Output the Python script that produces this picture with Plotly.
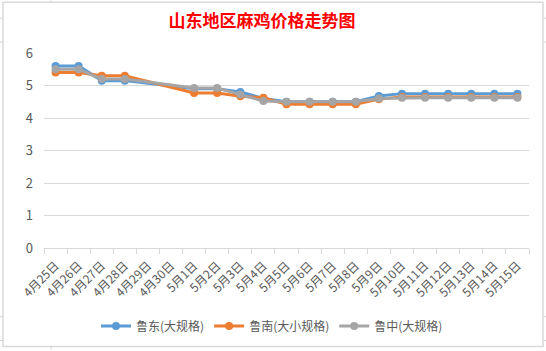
import plotly.graph_objects as go

categories = ["4月25日", "4月26日", "4月27日", "4月28日", "4月29日", "4月30日",
              "5月1日", "5月2日", "5月3日", "5月4日", "5月5日", "5月6日", "5月7日",
              "5月8日", "5月9日", "5月10日", "5月11日", "5月12日", "5月13日",
              "5月14日", "5月15日"]
ludong = [5.6, 5.6, 5.15, 5.15, None, None, 4.9, 4.9, 4.8, 4.6, 4.5, 4.5, 4.5,
          4.5, 4.68, 4.75, 4.75, 4.75, 4.75, 4.75, 4.75]
lunan = [5.4, 5.4, 5.3, 5.3, None, None, 4.77, 4.77, 4.67, 4.62, 4.42, 4.42, 4.42,
         4.42, 4.58, 4.65, 4.65, 4.65, 4.65, 4.65, 4.65]
luzhong = [5.5, 5.5, 5.2, 5.2, None, None, 4.92, 4.92, 4.72, 4.52, 4.5, 4.5, 4.5,
           4.5, 4.6, 4.62, 4.62, 4.62, 4.62, 4.62, 4.62]
series_names = ["鲁东(大规格)", "鲁南(大小规格)", "鲁中(大规格)"]
colors = ["#5B9BD5", "#ED7D31", "#A5A5A5"]
y_ticks = [0, 1, 2, 3, 4, 5, 6]

fig = go.Figure()
for name, vals, c in zip(series_names, [ludong, lunan, luzhong], colors):
    fig.add_trace(go.Scatter(
        x=categories, y=vals, name=name, mode="lines+markers",
        connectgaps=True,
        line=dict(color=c, width=3),
        marker=dict(color=c, size=8),
    ))

L, R, T, B = 44, 17, 53, 102
W, H = 546, 351
pw, ph = W - L - R, H - T - B

def px(x):
    return (x - L) / pw

def py(y):
    return (H - B - y) / ph

shapes = [
    dict(type="rect", xref="paper", yref="paper",
         x0=px(3), x1=px(543), y0=py(348), y1=py(2),
         line=dict(color="#D9D9D9", width=1.5), layer="below"),
]
# faint spreadsheet cell lines outside the chart frame
for yy in [18, 42, 318, 342]:
    shapes.append(dict(type="line", xref="paper", yref="paper",
                       x0=px(0), x1=px(3), y0=py(yy), y1=py(yy),
                       line=dict(color="#D4D4D4", width=1)))
    shapes.append(dict(type="line", xref="paper", yref="paper",
                       x0=px(543), x1=px(546), y0=py(yy), y1=py(yy),
                       line=dict(color="#D4D4D4", width=1)))
for yy0, yy1 in [(0, 2), (348, 351)]:
    shapes.append(dict(type="line", xref="paper", yref="paper",
                       x0=px(51), x1=px(51), y0=py(yy0), y1=py(yy1),
                       line=dict(color="#D4D4D4", width=1)))

fig.update_layout(
    width=W, height=H,
    margin=dict(l=L, r=R, t=T, b=B, pad=0),
    paper_bgcolor="white", plot_bgcolor="white",
    font=dict(family="Noto Sans CJK SC, Noto Sans, sans-serif", color="#595959", size=12),
    title=dict(text="山东地区麻鸡价格走势图", x=px(262), xref="paper", xanchor="center",
               y=1 - 21 / H, yanchor="middle",
               font=dict(color="#FF0000", size=17, family="Noto Sans CJK SC", weight=600)),
    xaxis=dict(type="category", tickangle=-45, tickfont=dict(size=12),
               showgrid=False, showline=True, linecolor="#D9D9D9", linewidth=1,
               ticks="outside", tickson="boundaries", ticklen=5, tickcolor="#D9D9D9",
               ticklabelstandoff=5,
               range=[-0.5, len(categories) - 0.5]),
    yaxis=dict(range=[0, 6], tickvals=y_ticks, showgrid=True, gridcolor="#D9D9D9",
               gridwidth=1, zeroline=False, showline=False, ticks="",
               ticklabelstandoff=10, tickfont=dict(size=13)),
    legend=dict(orientation="h", x=px(272), xanchor="center", xref="paper",
                y=py(326), yanchor="middle", font=dict(size=12),
                itemwidth=30, tracegroupgap=0),
    shapes=shapes,
)

fig.write_html("out.html")
